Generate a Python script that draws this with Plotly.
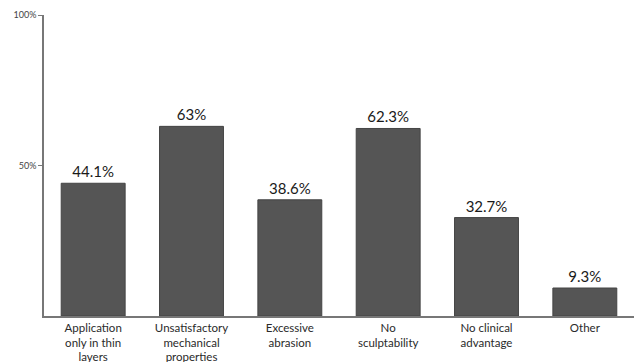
import plotly.graph_objects as go

categories = ["Application<br>only in thin<br>layers", "Unsatisfactory<br>mechanical<br>properties",
              "Excessive<br>abrasion", "No<br>sculptability", "No clinical<br>advantage", "Other"]
values = [44.1, 63, 38.6, 62.3, 32.7, 9.3]
labels = ["44.1%", "63%", "38.6%", "62.3%", "32.7%", "9.3%"]
ytick_vals = [50, 100]
ytick_text = ["50%", "100%"]

fig = go.Figure(go.Bar(
    x=list(range(len(categories))), y=values,
    text=labels, textposition="outside", cliponaxis=False,
    textfont=dict(family="Lato", size=15, color="#1a1a1a"),
    marker=dict(color="#555555", line=dict(color="#444444", width=1)),
))
fig.update_layout(
    width=638, height=362,
    margin=dict(l=44, r=4, t=15, b=46),
    paper_bgcolor="white", plot_bgcolor="white",
    bargap=0.35, showlegend=False,
    xaxis=dict(tickmode="array", tickvals=list(range(len(categories))), ticktext=categories,
               range=[-0.5, 5.5], showline=True, linecolor="#777", linewidth=1.5,
               ticks="", tickfont=dict(family="Lato", size=11.5, color="#2a2a2a"), showgrid=False,
               zeroline=False, automargin=False, ticklabelstandoff=0),
    yaxis=dict(range=[0, 100], tickmode="array", tickvals=ytick_vals, ticktext=ytick_text,
               showline=True, linecolor="#777", linewidth=1.5, ticks="outside", ticklen=4,
               tickcolor="#777", tickfont=dict(family="Lato", size=9, color="#444"),
               showgrid=False, zeroline=False, automargin=False),
)
fig.write_html("out.html")
